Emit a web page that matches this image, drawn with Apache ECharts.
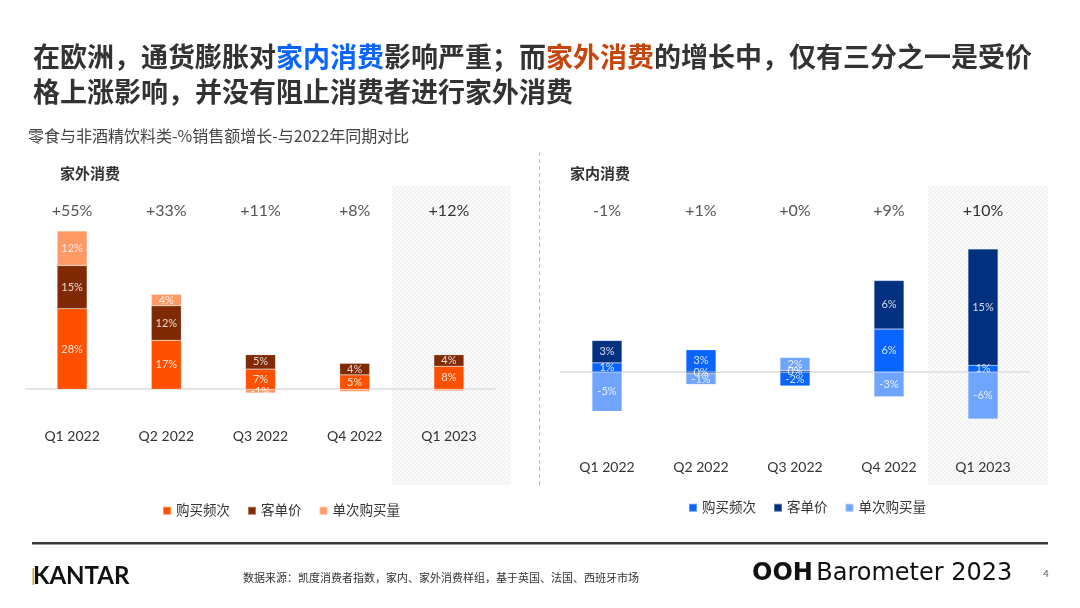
<!DOCTYPE html>
<html>
<head>
<meta charset="utf-8">
<script src="https://cdn.jsdelivr.net/npm/echarts@6/dist/echarts.min.js"></script>
<style>html,body{margin:0;padding:0;background:#fff}#main{width:1080px;height:608px}</style>
</head>
<body>
<div id="main"></div>
<script>
var quarters = ['Q1 2022', 'Q2 2022', 'Q3 2022', 'Q4 2022', 'Q1 2023'];
var seriesNames = ['购买频次', '客单价', '单次购买量'];

// 家外消费
var outFreq = [28, 17, 7, 5, 8];
var outPrice = [15, 12, 5, 4, 4];
var outVolume = [12, 4, -1.3, -0.8, -0.6];
var outTotal = ['+55%', '+33%', '+11%', '+8%', '+12%'];

// 家内消费
var inFreq = [1.2, 2.9, -1.8, 5.6, 0.9];
var inPrice = [2.9, -0.2, 0.2, 6.3, 15.1];
var inVolume = [-5.1, -1.4, 1.7, -3.2, -6.1];
var inTotal = ['-1%', '+1%', '+0%', '+9%', '+10%'];

var outColors = ['#FF5000', '#7F2A04', '#FF9966'];
var inColors = ['#0A64FF', '#00307F', '#6FA5FF'];

var cjk = 'Lato, "Noto Sans CJK SC", sans-serif';

function hatch() {
    var c = document.createElement('canvas');
    c.width = 4; c.height = 4;
    var ctx = c.getContext('2d');
    ctx.fillStyle = '#fafafa';
    ctx.fillRect(0, 0, 4, 4);
    ctx.strokeStyle = '#e8e8e8';
    ctx.lineWidth = 0.8;
    ctx.beginPath();
    ctx.moveTo(0, 4); ctx.lineTo(4, 0);
    ctx.moveTo(-1, 1); ctx.lineTo(1, -1);
    ctx.moveTo(3, 5); ctx.lineTo(5, 3);
    ctx.stroke();
    return c;
}

function outFmt(p) {
    return Math.abs(p.value) < 1 ? '' : Math.round(p.value) + '%';
}
function inFmt(p) {
    var r = Math.round(p.value);
    return (r === 0 ? 0 : r) + '%';
}

function makeSeries(gi, colors, datas, fmt) {
    return datas.map(function (d, i) {
        var s = {
            name: seriesNames[i],
            type: 'bar',
            xAxisIndex: gi * 2,
            yAxisIndex: gi,
            stack: 'g' + gi,
            barWidth: 30,
            data: d,
            itemStyle: {color: colors[i], borderColor: 'rgba(255,255,255,0.35)', borderWidth: 0.5},
            label: {show: true, position: 'inside', color: 'rgba(255,255,255,0.82)', fontSize: 11, fontFamily: 'Lato', formatter: fmt}
        };
        if (i === 0) {
            s.markLine = {
                silent: true, symbol: 'none', z: 1,
                label: {show: false},
                lineStyle: {color: '#dcdcdc', width: 1.5, type: 'solid'},
                data: [{yAxis: 0}]
            };
        }
        return s;
    });
}

function totalsData(arr) {
    return arr.map(function (t, i) {
        return i === arr.length - 1 ? {value: t, textStyle: {color: '#333'}} : t;
    });
}

function xAxes(gi, totals, topMargin) {
    return [
        {gridIndex: gi, type: 'category', data: quarters, position: 'bottom',
            axisLine: {show: false, onZero: false}, axisTick: {show: false},
            axisLabel: {margin: 11, color: '#333', fontSize: 14, fontFamily: 'Lato'}},
        {gridIndex: gi, type: 'category', data: totalsData(totals), position: 'top',
            axisLine: {show: false, onZero: false}, axisTick: {show: false},
            axisLabel: {margin: topMargin, color: '#555', fontSize: 16, fontFamily: 'Lato'}}
    ];
}

function legendFor(colors, left, top) {
    return {
        data: seriesNames.map(function (n, i) { return {name: n, itemStyle: {color: colors[i]}}; }),
        left: left, top: top, icon: 'rect', itemWidth: 8, itemHeight: 8, itemGap: 17,
        selectedMode: false,
        textStyle: {fontSize: 13.5, color: '#333', fontFamily: cjk}
    };
}

var pattern = {image: hatch(), repeat: 'repeat'};

var dom = document.getElementById('main');
var myChart = echarts.init(dom);
var option = {
    animation: false,
    backgroundColor: '#fff',
    textStyle: {fontFamily: cjk},
    title: [{
        left: 28, top: 34,
        text: '在欧洲，通货膨胀对{b|家内消费}影响严重；而{o|家外消费}的增长中，仅有三分之一是受价\n格上涨影响，并没有阻止消费者进行家外消费',
        textStyle: {
            fontSize: 27, fontWeight: 'bold', color: '#333', fontFamily: '"Noto Sans CJK SC"', lineHeight: 35,
            rich: {
                b: {fontSize: 27, fontWeight: 'bold', color: '#0A64FF', fontFamily: '"Noto Sans CJK SC"', lineHeight: 35},
                o: {fontSize: 27, fontWeight: 'bold', color: '#C4450E', fontFamily: '"Noto Sans CJK SC"', lineHeight: 35}
            }
        }
    }],
    legend: [legendFor(outColors, 157, 499), legendFor(inColors, 683, 496)],
    grid: [
        {left: 25, width: 471, top: 231, height: 187},
        {left: 560, width: 470, top: 249, height: 200}
    ],
    xAxis: xAxes(0, outTotal, 12).concat(xAxes(1, inTotal, 30)),
    yAxis: [
        {gridIndex: 0, type: 'value', min: -10, max: 55, show: false, splitLine: {show: false}},
        {gridIndex: 1, type: 'value', min: -10, max: 16, show: false, splitLine: {show: false}}
    ],
    series: makeSeries(0, outColors, [outFreq, outPrice, outVolume], outFmt)
        .concat(makeSeries(1, inColors, [inFreq, inPrice, inVolume], inFmt)),
    graphic: [
        {type: 'rect', z: -10, shape: {x: 392, y: 186, width: 119, height: 299}, style: {fill: pattern}},
        {type: 'rect', z: -10, shape: {x: 928, y: 186, width: 120, height: 299}, style: {fill: pattern}},
        {type: 'line', shape: {x1: 539.5, y1: 152, x2: 539.5, y2: 486}, style: {stroke: '#bbb', lineWidth: 1, lineDash: [4, 3]}},
        {type: 'text', left: 28, top: 128, style: {text: '零食与非酒精饮料类-%销售额增长-与2022年同期对比', font: '16px "Noto Sans CJK SC"', fill: '#444'}},
        {type: 'text', left: 60, top: 166, style: {text: '家外消费', font: 'bold 15px "Noto Sans CJK SC"', fill: '#333'}},
        {type: 'text', left: 570, top: 166, style: {text: '家内消费', font: 'bold 15px "Noto Sans CJK SC"', fill: '#333'}},
        {type: 'rect', shape: {x: 32, y: 542, width: 1016, height: 2.5}, style: {fill: '#3a3a3a'}},
        {type: 'text', left: 33, top: 564, style: {text: 'KANTAR', font: 'bold 24px Lato', fill: '#111'}},
        {type: 'rect', shape: {x: 32.5, y: 568, width: 1.6, height: 17}, style: {fill: '#D9A520'}},
        {type: 'text', left: 243, top: 572, style: {text: '数据来源：凯度消费者指数，家内、家外消费样组，基于英国、法国、西班牙市场', font: '11px "Noto Sans CJK SC"', fill: '#333'}},
        {type: 'text', left: 752, top: 562, style: {
            text: '{b|OOH} {n|Barometer 2023}',
            rich: {
                b: {fontSize: 24, fontWeight: 'bold', fontFamily: '"DejaVu Sans"', fill: '#111', color: '#111'},
                n: {fontSize: 24, fontFamily: '"DejaVu Sans"', fill: '#111', color: '#111'}
            }
        }},
        {type: 'text', left: 1043, top: 569, style: {text: '4', font: '10px Lato', fill: '#555'}}
    ]
};

if (option && typeof option === 'object') {
    myChart.setOption(option, true);
}
</script>
</body>
</html>
